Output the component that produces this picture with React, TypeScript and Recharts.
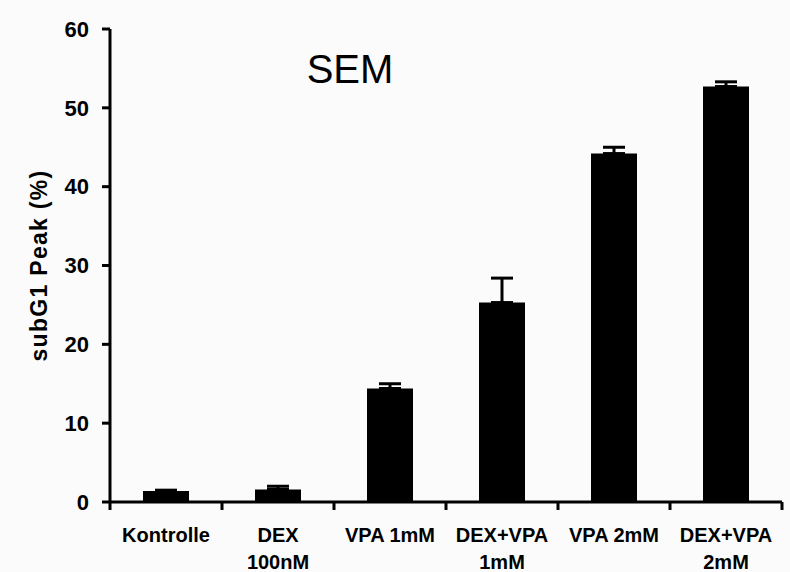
import React from 'react';
import { BarChart, Bar, XAxis, YAxis, ErrorBar } from 'recharts';

const categories = ['Kontrolle', 'DEX|100nM', 'VPA 1mM', 'DEX+VPA|1mM', 'VPA 2mM', 'DEX+VPA|2mM'];
const values = [1.4, 1.6, 14.4, 25.3, 44.2, 52.7];
const errors = [0.1, 0.4, 0.6, 3.1, 0.8, 0.6];
const yTicks = [0, 10, 20, 30, 40, 50, 60];

const data = categories.map((c, i) => ({ name: c, value: values[i], err: [0, errors[i]] }));

const FONT = '"Liberation Sans", Arial, sans-serif';

const CatTick = (props: any) => {
  const { x, y, payload, width, visibleTicksCount, index } = props;
  const lines = String(payload.value).split('|');
  const half = width / visibleTicksCount / 2;
  return (
    <g transform={`translate(${x},${y})`}>
      <line x1={-half} x2={-half} y1={0} y2={8} stroke="#000" strokeWidth={3} />
      {index === visibleTicksCount - 1 && (
        <line x1={half} x2={half} y1={0} y2={8} stroke="#000" strokeWidth={3} />
      )}
      {lines.map((l, i) => (
        <text key={i} x={0} y={0} dy={40 + i * 27} textAnchor="middle" fontFamily={FONT} fontWeight="bold" fontSize={20} fill="#000">
          {l}
        </text>
      ))}
    </g>
  );
};

export default function App() {
  return (
    <div style={{ position: 'absolute', left: 0, top: 0, width: 790, height: 572, background: '#fbfbfb' }}>
      <BarChart width={790} height={572} data={data} margin={{ top: 29, right: 8, bottom: 10, left: 0 }} barCategoryGap={33}>
        <XAxis
          dataKey="name"
          height={60}
          axisLine={{ stroke: '#000', strokeWidth: 3 }}
          tickLine={false}
          tickSize={0}
          tickMargin={0}
          interval={0}
          tick={<CatTick />}
        />
        <YAxis
          width={110}
          domain={[0, 60]}
          ticks={yTicks}
          tickSize={8}
          tickMargin={13}
          axisLine={{ stroke: '#000', strokeWidth: 3 }}
          tickLine={{ stroke: '#000', strokeWidth: 3 }}
          tick={{ fontFamily: FONT, fontWeight: 'bold', fontSize: 22, fill: '#000' }}
          label={{ value: 'subG1 Peak (%)', angle: -90, position: 'insideLeft', dx: 34, dy: 0, style: { fontFamily: FONT, fontWeight: 'bold', fontSize: 23, letterSpacing: 1.3, fill: '#000', textAnchor: 'middle' } }}
        />
        <Bar dataKey="value" fill="#000" isAnimationActive={false}>
          <ErrorBar dataKey="err" width={11} stroke="#000" strokeWidth={3} direction="y" />
        </Bar>
        <text x={350} y={83} textAnchor="middle" fontFamily={FONT} fontSize={40} fill="#000">SEM</text>
      </BarChart>
    </div>
  );
}
